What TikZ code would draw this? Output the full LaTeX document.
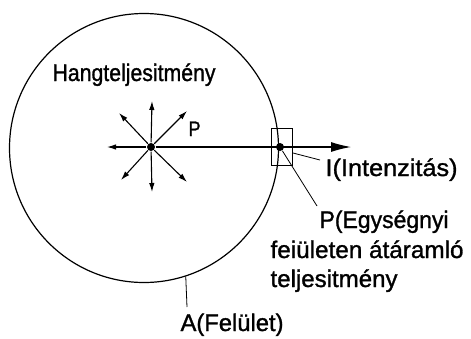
\documentclass[tikz,border=0pt]{standalone}
\usepackage{fontspec}
\usepackage{graphicx}
\setmainfont{Liberation Sans}
\newfontfamily\lblfont[UprightFeatures={FakeBold=1.2}]{Liberation Sans}
\usetikzlibrary{arrows.meta}
\newcommand{\fitw}[2]{\resizebox{#1}{\height}{#2}}
\begin{document}
\begin{tikzpicture}[x=1pt,y=-1pt,line width=1.1pt,
  dot/.style={circle,fill,inner sep=0pt,minimum size=8pt},
  lbl/.style={anchor=base west,inner sep=0pt,font=\lblfont\fontsize{24}{28}\selectfont},
  ray/.style={-{Latex[length=9pt,width=5.5pt]}},
  bigray/.style={-{Latex[length=20pt,width=10pt]}},
  lead/.style={line width=0.8pt}]
\useasboundingbox (0,0) rectangle (471,338);
% surface
\node[circle,draw,line width=1.2pt,minimum size=269pt,inner sep=0pt] (c) at (144,148) {};
% source
\node[dot] (s) at (151,147) {};
\coordinate (tu) at (152,101);
\coordinate (td) at (152,192);
\coordinate (tl) at (107,147);
\coordinate (tul) at (119,113);
\coordinate (tur) at (187,111);
\coordinate (tdl) at (121,180);
\coordinate (tdr) at (187,182);
\coordinate (tr) at (351,147);
\foreach \t in {tu,td,tl,tul,tur,tdl,tdr} \draw[ray] (s) -- (\t);
% measuring box
\node[draw,line width=0.9pt,minimum width=21pt,minimum height=37pt,inner sep=0pt] (box) at (281.5,146.5) {};
\draw[bigray] (s) -- (tr);
\node[dot] (d) at (280,147) {};
% labels
\node[lbl] (hang) at (52,81) {\fitw{163pt}{Hangteljesitmény}};
\node[lbl,font=\lblfont\fontsize{21}{24}\selectfont] (p) at (188,136) {\fitw{12pt}{P}};
\node[lbl] (int) at (325,176) {\fitw{132pt}{I(Intenzitás)}};
\node[lbl] (pe1) at (319,228) {\fitw{129pt}{P(Egységnyi}};
\node[lbl] (pe2) at (270,258) {\fitw{193pt}{feiületen átáramló}};
\node[lbl] (pe3) at (270,287) {\fitw{127pt}{teljesitmény}};
\node[lbl] (area) at (180,331) {\fitw{103pt}{A(Felület)}};
% leaders
\coordinate (i1) at (293,153);
\coordinate (i2) at (320,160);
\draw[lead] (i1) -- (i2);
\coordinate (pend) at (317,206);
\draw[lead] (d) -- (pend);
\coordinate (aend) at (187,307);
\draw[lead] (c.-72) -- (aend);
\end{tikzpicture}
\end{document}
